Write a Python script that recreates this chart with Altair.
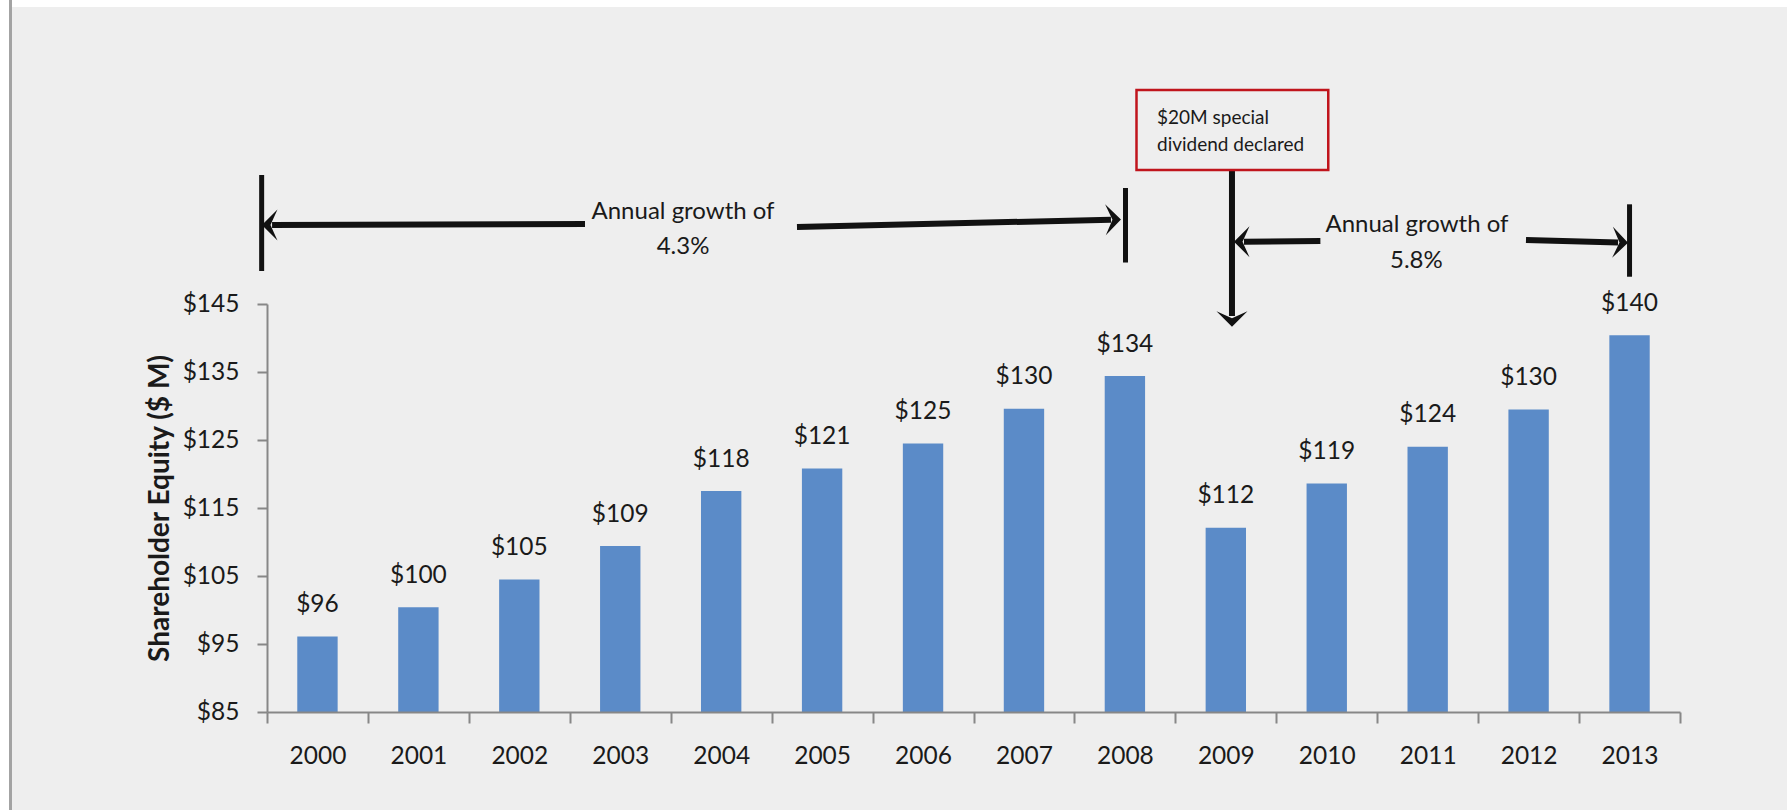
import altair as alt
import pandas as pd

# ---------------- data ----------------
years = ["2000", "2001", "2002", "2003", "2004", "2005", "2006",
         "2007", "2008", "2009", "2010", "2011", "2012", "2013"]
equity = [96.1, 100.4, 104.5, 109.4, 117.5, 120.8, 124.5,
          129.6, 134.4, 112.1, 118.6, 124.0, 129.5, 140.4]
equity_labels = [96, 100, 105, 109, 118, 121, 125,
                 130, 134, 112, 119, 124, 130, 140]
y_ticks = [85, 95, 105, 115, 125, 135, 145]

growth_texts = ["Annual growth of", "4.3%", "Annual growth of", "5.8%"]
box_texts = ["$20M special", "dividend declared"]

# ---------------- annotation geometry (year-index x, value y) ----------------
seg_x = [1999.447, 1999.55, 2004.751, 2008.006, 2009.061, 2009.18, 2011.974, 2013.0]
seg_y = [163.97, 156.62, 156.32, 162.06, 164.71, 154.16, 154.41, 159.66]
seg_x2 = [1999.447, 2002.651, 2007.862, 2008.006, 2009.061, 2009.937, 2012.886, 2013.0]
seg_y2 = [149.85, 156.76, 157.40, 151.10, 143.24, 154.26, 154.03, 149.01]
seg_w = [5, 6, 6, 5, 6, 6, 6, 5]

head_x = [1999.45, 2007.961, 2009.061, 2009.081, 2012.985]
head_y = [156.62, 157.43, 141.66, 154.16, 154.01]
head_angle = [180, 358.7, 90, 180, 1.5]

text_x = [2003.622, 2003.622, 2010.894, 2010.888]
text_y = [157.5, 152.35, 155.63, 150.25]

box_x, box_x2, box_y, box_y2 = [2008.115], [2010.015], [176.47], [164.71]
box_text_x = [2008.318, 2008.318]
box_text_y = [171.47, 167.54]

FONT = "Lato"
TXT = "#1a1a1a"
AX = "#878787"

bars_df = pd.DataFrame({"year": years, "equity": equity,
                        "label": ["$" + str(v) for v in equity_labels]})
seg_df = pd.DataFrame({"x": seg_x, "y": seg_y, "x2": seg_x2, "y2": seg_y2, "w": seg_w})
head_df = pd.DataFrame({"x": head_x, "y": head_y, "a": head_angle})
text_df = pd.DataFrame({"x": text_x, "y": text_y, "t": growth_texts})
box_df = pd.DataFrame({"x": box_x, "x2": box_x2, "y": box_y, "y2": box_y2})
boxt_df = pd.DataFrame({"x": box_text_x, "y": box_text_y, "t": box_texts})
dummy = pd.DataFrame({"k": [0]})

yscale = alt.Scale(domain=[85, 145], nice=False, zero=False)
xq = alt.Scale(domain=[1999.5, 2013.5], nice=False, zero=False)

# page frame: white strips on top and left, thin grey border line
top_strip = alt.Chart(dummy).mark_rect(color="white").encode(
    x=alt.value(-267), x2=alt.value(1520), y=alt.value(-304), y2=alt.value(-297))
left_strip = alt.Chart(dummy).mark_rect(color="white").encode(
    x=alt.value(-267), x2=alt.value(-258), y=alt.value(-304), y2=alt.value(506))
border = alt.Chart(dummy).mark_rule(color="#a3a3a3", strokeWidth=3).encode(
    x=alt.value(-256.5), y=alt.value(-304), y2=alt.value(506))

bars = alt.Chart(bars_df).mark_bar(
    width=alt.RelativeBandSize(0.4), color="#5b8bc8").encode(
    x=alt.X("year:O", sort=years,
            scale=alt.Scale(paddingInner=0, paddingOuter=0),
            axis=alt.Axis(title=None, labelAngle=0, tickBand="extent", zindex=2,
                          domainColor=AX, domainWidth=2, tickColor=AX, tickWidth=2,
                          tickSize=11, labelFont=FONT, labelFontSize=24.5,
                          labelColor=TXT, labelBaseline="alphabetic",
                          labelPadding=40)),
    y=alt.Y("equity:Q", scale=yscale,
            axis=alt.Axis(values=y_ticks, labelExpr="'$' + datum.value", grid=False,
                          zindex=2, orient="left",
                          domainColor=AX, domainWidth=2, tickColor=AX, tickWidth=2,
                          tickSize=10, labelPadding=18, labelFont=FONT,
                          labelFontSize=24.5, labelColor=TXT,
                          title="Shareholder Equity ($ M)", titleFont=FONT,
                          titleFontSize=28, titleFontWeight="bold", titleColor=TXT,
                          titleAngle=270, titleX=-99, titleY=204,
                          titleBaseline="alphabetic", titleAlign="center")),
    y2=alt.datum(85),
)

labels = alt.Chart(bars_df).mark_text(
    font=FONT, fontSize=24.5, color=TXT, baseline="alphabetic", dy=-24.5).encode(
    x=alt.X("year:O", sort=years, scale=alt.Scale(paddingInner=0, paddingOuter=0), axis=None),
    y=alt.Y("equity:Q", scale=yscale, axis=None),
    text="label:N")

segs = alt.Chart(seg_df).mark_rule(color="#111111", strokeCap="butt").encode(
    x=alt.X("x:Q", scale=xq, axis=None),
    x2="x2:Q",
    y=alt.Y("y:Q", scale=yscale, axis=None),
    y2="y2:Q",
    strokeWidth=alt.StrokeWidth("w:Q", scale=None))

heads = alt.Chart(head_df).mark_point(
    shape="M0,0 L-1,-1 L-0.55,0 L-1,1 Z", filled=True, color="#111111",
    opacity=1, size=961, strokeWidth=0).encode(
    x=alt.X("x:Q", scale=xq, axis=None),
    y=alt.Y("y:Q", scale=yscale, axis=None),
    angle=alt.Angle("a:Q", scale=None))

texts = alt.Chart(text_df).mark_text(
    font=FONT, fontSize=24, color=TXT, baseline="alphabetic", align="center").encode(
    x=alt.X("x:Q", scale=xq, axis=None),
    y=alt.Y("y:Q", scale=yscale, axis=None),
    text="t:N")

box = alt.Chart(box_df).mark_rect(fill="#eeeeee", stroke="#c0141c", strokeWidth=2.5).encode(
    x=alt.X("x:Q", scale=xq, axis=None), x2="x2:Q",
    y=alt.Y("y:Q", scale=yscale, axis=None), y2="y2:Q")

boxt = alt.Chart(boxt_df).mark_text(
    font=FONT, fontSize=19, color=TXT, baseline="alphabetic", align="left").encode(
    x=alt.X("x:Q", scale=xq, axis=None),
    y=alt.Y("y:Q", scale=yscale, axis=None),
    text="t:N")

chart = alt.layer(bars, labels, segs, heads, texts, box, boxt,
                  top_strip, left_strip, border).resolve_scale(
    x="independent"
).resolve_axis(
    x="independent", y="independent"
).properties(
    width=1413, height=408,
    autosize=alt.AutoSizeParams(type="none"),
    padding={"left": 267, "top": 304, "right": 107, "bottom": 98},
    background="#eeeeee",
).configure_view(stroke=None)

chart.save("out.html", embed_options={"renderer": "svg", "actions": False})
